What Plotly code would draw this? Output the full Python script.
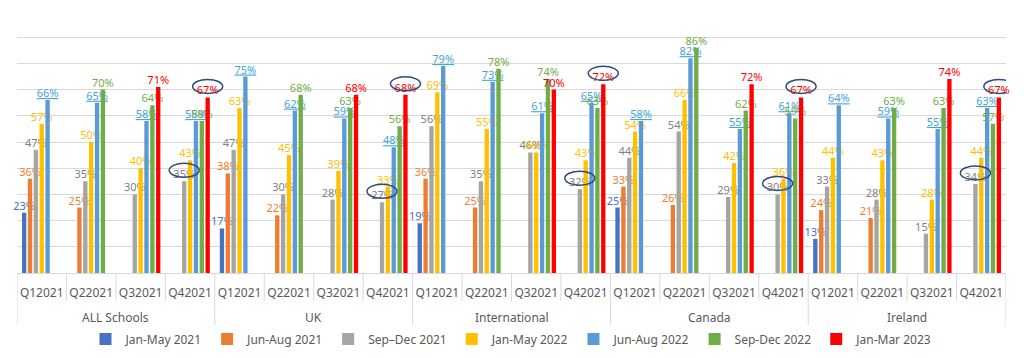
import plotly.graph_objects as go

regions = ["ALL Schools", "UK", "International", "Canada", "Ireland"]
quarters = ["Q12021", "Q22021", "Q32021", "Q42021"]

series_names = ["Jan-May 2021", "Jun-Aug 2021", "Sep\u2013Dec 2021", "Jan-May 2022",
                "Jun-Aug 2022", "Sep-Dec 2022", "Jan-Mar 2023"]
series_colors = ["#4472C4", "#ED7D31", "#A5A5A5", "#FFC000", "#5B9BD5", "#70AD47", "#FF0000"]
label_colors = ["#4472C4", "#ED7D31", "#7F7F7F", "#FFC000", "#41A5DC", "#70AD47", "#FF0000"]

# values per region, per quarter (None = no bar)
N = None
jan_may_2021 = [23, N, N, N,  17, N, N, N,  19, N, N, N,  25, N, N, N,  13, N, N, N]
jun_aug_2021 = [36, 25, N, N,  38, 22, N, N,  36, 25, N, N,  33, 26, N, N,  24, 21, N, N]
sep_dec_2021 = [47, 35, 30, 35,  47, 30, 28, 27,  56, 35, 46, 32,  44, 54, 29, 30,  33, 28, 15, 34]
jan_may_2022 = [57, 50, 40, 43,  63, 45, 39, 33,  69, 55, 46, 43,  54, 66, 42, 36,  44, 43, 28, 44]
jun_aug_2022 = [66, 65, 58, 58,  75, 62, 59, 48,  79, 73, 61, 65,  58, 82, 55, 61,  64, 59, 55, 63]
sep_dec_2022 = [N, 70, 64, 58,  N, 68, 63, 56,  N, 78, 74, 63,  N, 86, 62, 59,  N, 63, 63, 57]
jan_mar_2023 = [N, N, 71, 67,  N, N, 68, 68,  N, N, 70, 72,  N, N, 72, 67,  N, N, 74, 67]

series_values = [jan_may_2021, jun_aug_2021, sep_dec_2021, jan_may_2022,
                 jun_aug_2022, sep_dec_2022, jan_mar_2023]

# circled labels: (series index, quarter label) in every region
circled = [(2, "Q42021"), (6, "Q42021")]

# one unique category per (region, quarter)
categories = [f"{r} | {q}" for r in regions for q in quarters]
cat_quarter = [q for r in regions for q in quarters]

# the page body has a default 8px margin, so the figure is drawn 8px in from the corner
FIG_W, FIG_H = 1016, 350
M_L, M_R, M_T, M_B = 9, 18, 3, 85
PLOT_H = FIG_H - M_T - M_B
BARGAP = 0.17
fig = go.Figure()
for i, (name, vals) in enumerate(zip(series_names, series_values)):
    if i == 4:
        texts = ["" if v is None else f"<u>{v}%</u>" for v in vals]
    else:
        texts = ["" if v is None else f"{v}%" for v in vals]
    fig.add_trace(go.Bar(
        name=name, x=categories, y=vals,
        marker_color=series_colors[i], marker_line_width=0,
        text=texts, textposition="outside", textangle=0, constraintext="none",
        cliponaxis=False,
        textfont=dict(color=label_colors[i], size=11, family="Noto Sans"),
        hoverinfo="skip",
    ))

n_cat = len(categories)
slot = (1 - BARGAP) / len(series_names)
shapes = []
# circles around chosen data labels
for ri, r in enumerate(regions):
    for s, q in circled:
        idx = categories.index(f"{r} | {q}")
        v = series_values[s][idx]
        xc = idx + (s - (len(series_names) - 1) / 2) * slot
        shapes.append(dict(type="circle", xref="x", yref="y",
                           xsizemode="pixel", xanchor=xc, x0=-15, x1=15,
                           ysizemode="pixel", yanchor=v, y0=4, y1=18,
                           line=dict(color="#2F4A7A", width=1.5)))
# category dividers below the axis (short between quarters, long between regions)
for b in range(n_cat + 1):
    length = 52 if b % len(quarters) == 0 else 28
    shapes.append(dict(type="line", xref="x", yref="paper",
                       x0=b - 0.5, x1=b - 0.5, y0=0, y1=-length / PLOT_H,
                       line=dict(color="#D9D9D9", width=1)))

annotations = []
for ri, r in enumerate(regions):
    idxs = [categories.index(f"{r} | {q}") for q in quarters]
    annotations.append(dict(text=r, xref="x", yref="paper",
                            x=sum(idxs) / len(idxs), y=0, yanchor="middle",
                            yshift=-44, showarrow=False,
                            font=dict(size=12, color="#595959", family="Noto Sans")))

fig.update_layout(
    width=FIG_W, height=FIG_H,
    margin=dict(l=M_L, r=M_R, t=M_T, b=M_B, autoexpand=False),
    paper_bgcolor="white", plot_bgcolor="white",
    barmode="group", bargap=BARGAP, bargroupgap=0.26,
    font=dict(family="Noto Sans", color="#595959", size=12),
    showlegend=True,
    legend=dict(orientation="h", x=0.5, xanchor="center", y=-66 / PLOT_H, yanchor="middle",
                font=dict(size=12, color="#595959"), itemwidth=30,
                traceorder="normal"),
    shapes=shapes,
    annotations=annotations,
    xaxis=dict(type="category", range=[-0.5, n_cat - 0.5], tickangle=0, automargin=False,
               tickmode="array", tickvals=categories, ticktext=cat_quarter,
               showline=True, linecolor="#D9D9D9", linewidth=1,
               ticks="", ticklabelstandoff=9,
               tickfont=dict(size=12, color="#595959"), showgrid=False),
    yaxis=dict(range=[0, 100], dtick=10, showticklabels=False, showgrid=True,
               gridcolor="#D9D9D9", gridwidth=1, zeroline=False, ticks=""),
)

fig.write_html("out.html")
